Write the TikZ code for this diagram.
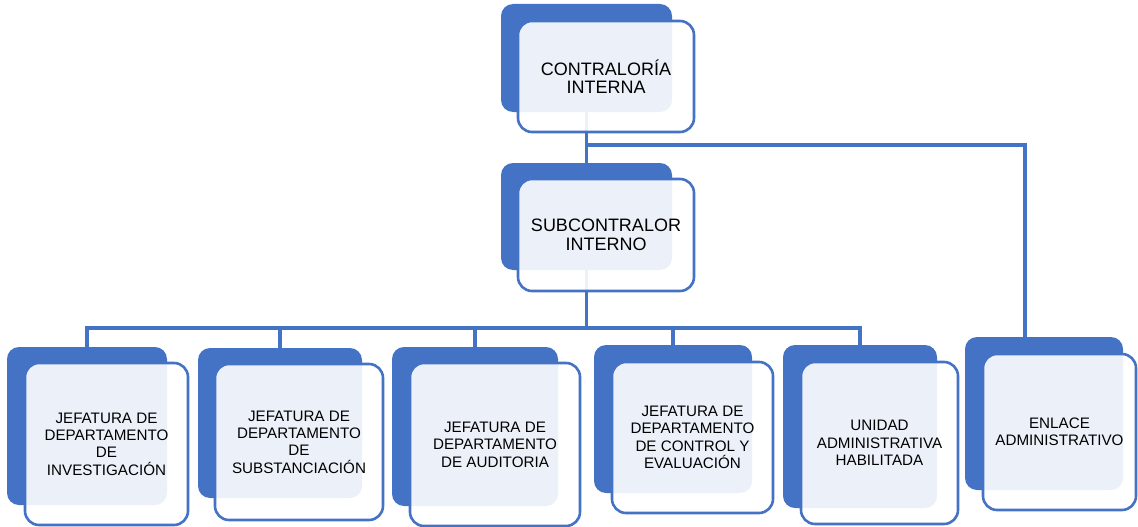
\documentclass[tikz,border=0pt]{standalone}
\usepackage{fontspec}
\setmainfont{Liberation Sans}
\usetikzlibrary{calc}
\definecolor{blu}{HTML}{4472C4}
\pgfdeclarelayer{background}
\pgfsetlayers{background,main}
\tikzset{
  darkbox/.style={rectangle, rounded corners=12pt, fill=blu, draw=none, inner sep=0pt},
  lightbox/.style={rectangle, rounded corners=14pt, fill=white, fill opacity=0.9, text opacity=1,
    draw=blu, line width=2.6pt, inner sep=0pt, align=center, text=black},
  bigtxt/.style={font=\fontsize{18}{18.5}\selectfont},
  smalltxt/.style={font=\fontsize{15.2}{17.4}\selectfont},
  conn/.style={draw=blu, line width=3.2pt}
}
\begin{document}
\begin{tikzpicture}[x=1pt,y=-1pt]
\useasboundingbox (0,0) rectangle (1138,527);
% top
\node[darkbox, minimum width=171pt, minimum height=108pt] (topd) at (586.5,58) {};
\node[lightbox, bigtxt, minimum width=176pt, minimum height=111pt] (topl) at (606,76.5) {CONTRALORÍA\\INTERNA};
% sub
\node[darkbox, minimum width=171pt, minimum height=107pt] (subd) at (586.5,216.5) {};
\node[lightbox, bigtxt, minimum width=176pt, minimum height=112pt] (subl) at (606,235) {SUBCONTRALOR\\INTERNO};
% bottom
\node[darkbox, minimum width=160pt, minimum height=158pt] (b1d) at (87,426) {};
\node[lightbox, smalltxt, minimum width=163pt, minimum height=162pt] (b1l) at (106.5,444) {JEFATURA DE\\DEPARTAMENTO\\DE\\INVESTIGACIÓN};
\node[darkbox, minimum width=164pt, minimum height=150pt] (b2d) at (280,423) {};
\node[lightbox, smalltxt, minimum width=168pt, minimum height=156pt] (b2l) at (299,442) {JEFATURA DE\\DEPARTAMENTO\\DE\\SUBSTANCIACIÓN};
\node[darkbox, minimum width=166pt, minimum height=159pt] (b3d) at (475,426.5) {};
\node[lightbox, smalltxt, minimum width=170pt, minimum height=163pt] (b3l) at (495,444.5) {JEFATURA DE\\DEPARTAMENTO\\DE AUDITORIA};
\node[darkbox, minimum width=158pt, minimum height=148pt] (b4d) at (673,419) {};
\node[lightbox, smalltxt, minimum width=161pt, minimum height=151pt] (b4l) at (692.5,437.5) {JEFATURA DE\\DEPARTAMENTO\\DE CONTROL Y\\EVALUACIÓN};
\node[darkbox, minimum width=154pt, minimum height=163pt] (b5d) at (860,426.5) {};
\node[lightbox, smalltxt, minimum width=157pt, minimum height=162pt] (b5l) at (879.5,443) {UNIDAD\\ADMINISTRATIVA\\HABILITADA};
\node[darkbox, minimum width=158pt, minimum height=153pt] (b6d) at (1044,413.5) {};
\node[lightbox, smalltxt, minimum width=153pt, minimum height=156pt] (b6l) at (1059.5,432) {ENLACE\\ADMINISTRATIVO};
% coordinates
\coordinate (busy) at (0,328);
\coordinate (topy) at (0,145);
\coordinate (enltop) at ($(b6d.north west)!0.38!(b6d.north east)$);
\begin{pgfonlayer}{background}
\draw[conn] (topd.south) -- (subd.north);
\draw[conn] (topd.south |- topy) -| (enltop);
\foreach \c in {b1d,b2d,b3d,b4d,b5d}
  \draw[conn] (subd.south) -- (subd.south |- busy) -| (\c.north);
\end{pgfonlayer}
\end{tikzpicture}
\end{document}
